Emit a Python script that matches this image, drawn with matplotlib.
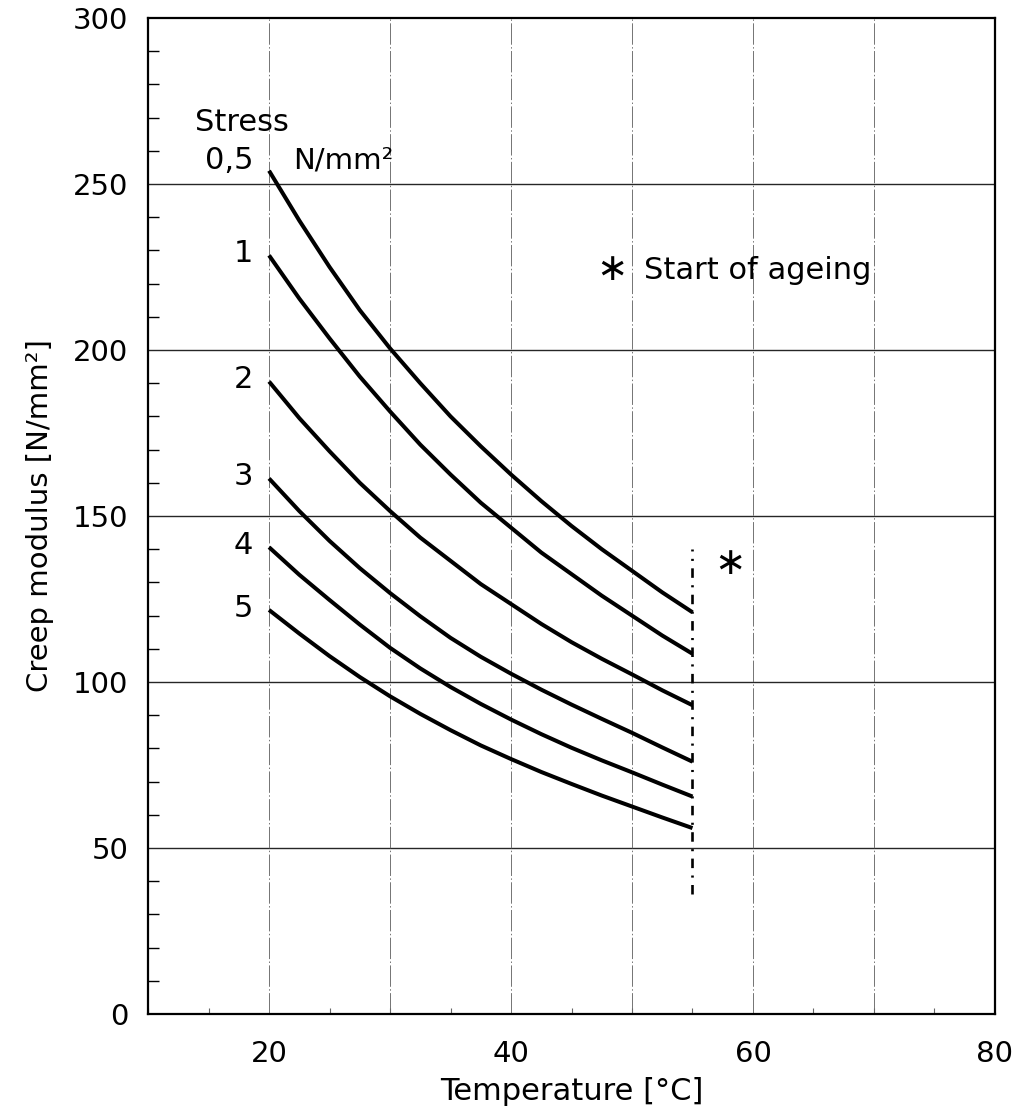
import matplotlib.pyplot as plt
from matplotlib.ticker import MultipleLocator

plt.rcParams['font.family'] = ['DejaVu Sans']

# creep modulus (N/mm²) against temperature, one curve per stress level
temperature = [20, 22.5, 25, 27.5, 30, 32.5, 35, 37.5, 40, 42.5, 45, 47.5, 50, 52.5, 55]
stress_labels = ['0,5', '1', '2', '3', '4', '5']
modulus_05 = [254, 239, 225, 212, 200.5, 190, 180, 171, 162.5, 154.5, 147, 140, 133.5, 127, 121]
modulus_1 = [228.5, 215.5, 203.5, 192, 181.5, 171.5, 162.5, 154, 146.5, 139, 132.5, 126, 120, 114, 108.5]
modulus_2 = [190.5, 179.5, 169.5, 160, 151.5, 143.5, 136.5, 129.5, 123.5, 117.5, 112, 107, 102.3, 97.5, 93]
modulus_3 = [161.3, 151.5, 142.5, 134.3, 126.8, 119.8, 113.3, 107.6, 102.5, 97.7, 93.2, 88.9, 84.7, 80.3, 76]
modulus_4 = [140.6, 132.3, 124.7, 117.3, 110.3, 104.1, 98.5, 93.4, 88.7, 84.3, 80.2, 76.4, 72.8, 69.1, 65.5]
modulus_5 = [121.7, 114.6, 107.8, 101.5, 95.7, 90.4, 85.5, 80.9, 76.8, 72.9, 69.3, 65.8, 62.5, 59.2, 56]
curves = [modulus_05, modulus_1, modulus_2, modulus_3, modulus_4, modulus_5]

ageing_temp = 55
ageing_range = [36, 140]
x_grid = [20, 30, 40, 50, 60, 70]
y_grid = [50, 100, 150, 200, 250]

fig = plt.figure(figsize=(10.21, 11.17), dpi=100)
ax = fig.add_axes([0.145, 0.0922, 0.8295, 0.8917])

for y in y_grid:
    ax.axhline(y, color='0.15', lw=1.0, zorder=1)
for x in x_grid:
    ax.axvline(x, color='0.45', lw=0.7, ls=(0, (22, 2.5, 1.5, 2.5)), zorder=1)

for vals in curves:
    ax.plot(temperature, vals, color='black', lw=2.9, solid_capstyle='butt',
            solid_joinstyle='round', zorder=3)

ax.plot([ageing_temp, ageing_temp], ageing_range, color='black', lw=1.9,
        ls=(0, (3.6, 2.8, 0.8, 2.8)), zorder=3)

# curve labels, each at the start of its curve
for lab, vals in zip(stress_labels, curves):
    kw = {}
    if lab == '0,5':
        kw['bbox'] = dict(facecolor='white', edgecolor='none', pad=4)
        y = vals[0] + 3
    else:
        y = vals[0] + 0.5
    ax.text(18.7, y, lab, ha='right', va='center', fontsize=22, zorder=4, **kw)
ax.text(13.9, 268.5, 'Stress', ha='left', va='center', fontsize=22, zorder=4)
ax.text(22.0, 257, 'N/mm²', ha='left', va='center', fontsize=21, zorder=4)

ax.text(48.3, 224, '∗', ha='center', va='center', fontsize=27, zorder=4)
ax.text(51.0, 224, 'Start of ageing', ha='left', va='center', fontsize=22, zorder=4)
ax.text(58.1, 135.5, '∗', ha='center', va='center', fontsize=27, zorder=4)

ax.set_xlim(10, 80)
ax.set_ylim(0, 300)
ax.xaxis.set_major_locator(MultipleLocator(20))
ax.xaxis.set_minor_locator(MultipleLocator(5))
ax.yaxis.set_major_locator(MultipleLocator(50))
ax.yaxis.set_minor_locator(MultipleLocator(10))
ax.tick_params(axis='y', which='major', length=0, labelsize=21, pad=14)
ax.tick_params(axis='x', which='major', length=0, labelsize=21, pad=19)
ax.tick_params(axis='y', which='minor', direction='in', length=8, width=1.0)
ax.tick_params(axis='x', which='minor', direction='in', length=4, width=0.8,
               color='0.4')

for s in ax.spines.values():
    s.set_linewidth(1.6)

ax.set_xlabel('Temperature [°C]', fontsize=22, labelpad=6)
ax.set_ylabel('Creep modulus [N/mm²]', fontsize=21, labelpad=14)

fig.savefig('out.png', dpi=100, facecolor='white')
